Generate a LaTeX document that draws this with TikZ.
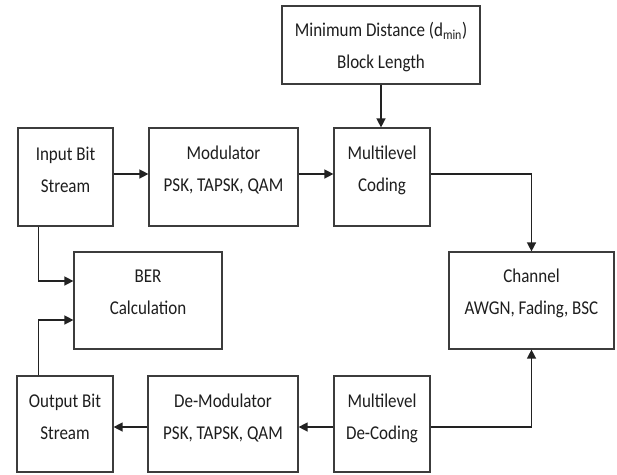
\documentclass[tikz,border=0pt]{standalone}
\usepackage{fontspec}
\usepackage{graphicx}
\setmainfont{Carlito}
\usetikzlibrary{arrows.meta,calc}
\definecolor{boxc}{HTML}{3C3C3C}
\definecolor{arrc}{HTML}{222222}
\definecolor{txtc}{HTML}{1E1E1E}
\newcommand{\hT}{\rule{0pt}{14pt}}
\newcommand{\tl}[2]{\hT\scalebox{1}[1.15]{#1}\\\scalebox{1}[1.15]{#2}}
\begin{document}
\begin{tikzpicture}[x=1pt,y=-1pt,
  box/.style={draw=boxc, line width=1.2pt, rectangle, inner sep=0pt, minimum height=98pt},
  lbl/.style={font=\fontsize{17}{32}\selectfont, align=center, inner sep=0pt, anchor=north, text=txtc},
  arr/.style={draw=arrc, line width=1.4pt, -{Triangle[length=9pt,width=9pt]}}]
\fill[white] (0,0) rectangle (617,474);
\useasboundingbox (0,0) rectangle (617,474);
% boxes
\node[box, minimum width=198pt, minimum height=78pt] (md) at (381,45) {};
\node[box, minimum width=95pt] (inp) at (65.5,177) {};
\node[box, minimum width=149pt] (mod) at (223.5,177) {};
\node[box, minimum width=96pt] (cod) at (382,177) {};
\node[box, minimum width=165pt, minimum height=97pt] (ch) at (531.5,300.5) {};
\node[box, minimum width=148pt, minimum height=97pt] (ber) at (148,300.5) {};
\node[box, minimum width=96pt, minimum height=96pt] (out) at (65,424) {};
\node[box, minimum width=150pt, minimum height=96pt] (dem) at (223,424) {};
\node[box, minimum width=96pt, minimum height=96pt] (dec) at (382,424) {};
% texts
\node[lbl] (tmd) at ([yshift=-17pt]md.north) {\tl{Minimum Distance (d\textsubscript{min})}{Block Length}};
\node[lbl] (tinp) at ([yshift=-19pt]inp.north) {\tl{Input Bit}{Stream}};
\node[lbl] (tmod) at ([yshift=-18pt]mod.north) {\tl{Modulator}{PSK, TAPSK, QAM}};
\node[lbl] (tcod) at ([yshift=-18pt]cod.north) {\tl{Multilevel}{Coding}};
\node[lbl] (tch) at ([yshift=-17pt]ch.north) {\tl{Channel}{AWGN, Fading, BSC}};
\node[lbl] (tber) at ([yshift=-17pt]ber.north) {\tl{BER}{Calculation}};
\node[lbl] (tout) at ([yshift=-18pt]out.north) {\tl{Output Bit}{Stream}};
\node[lbl] (tdem) at ([yshift=-18pt]dem.north) {\tl{De-Modulator}{PSK, TAPSK, QAM}};
\node[lbl] (tdec) at ([yshift=-18pt]dec.north) {\tl{Multilevel}{De-Coding}};
% connectors
\draw[arr] (md.south) -- (md.south |- cod.north);
\draw[arr] ([yshift=3pt]inp.east) -- ([yshift=3pt]mod.west);
\draw[arr] ([yshift=3pt]mod.east) -- ([yshift=3pt]cod.west);
\draw[arr] ([yshift=3pt]cod.east) -| (ch.north);
\draw[arr] ([yshift=-3pt]dec.east) -| (ch.south);
\draw[arr] ([yshift=-3pt]dec.west) -- ([yshift=-3pt]dem.east);
\draw[arr] ([yshift=-3pt]dem.west) -- ([yshift=-3pt]out.east);
\draw[arr] ([xshift=21pt]inp.south west) |- ([yshift=19.5pt]ber.west);
\draw[arr] ([xshift=22pt]out.north west) |- ([yshift=-19.5pt]ber.west);
\end{tikzpicture}
\end{document}
